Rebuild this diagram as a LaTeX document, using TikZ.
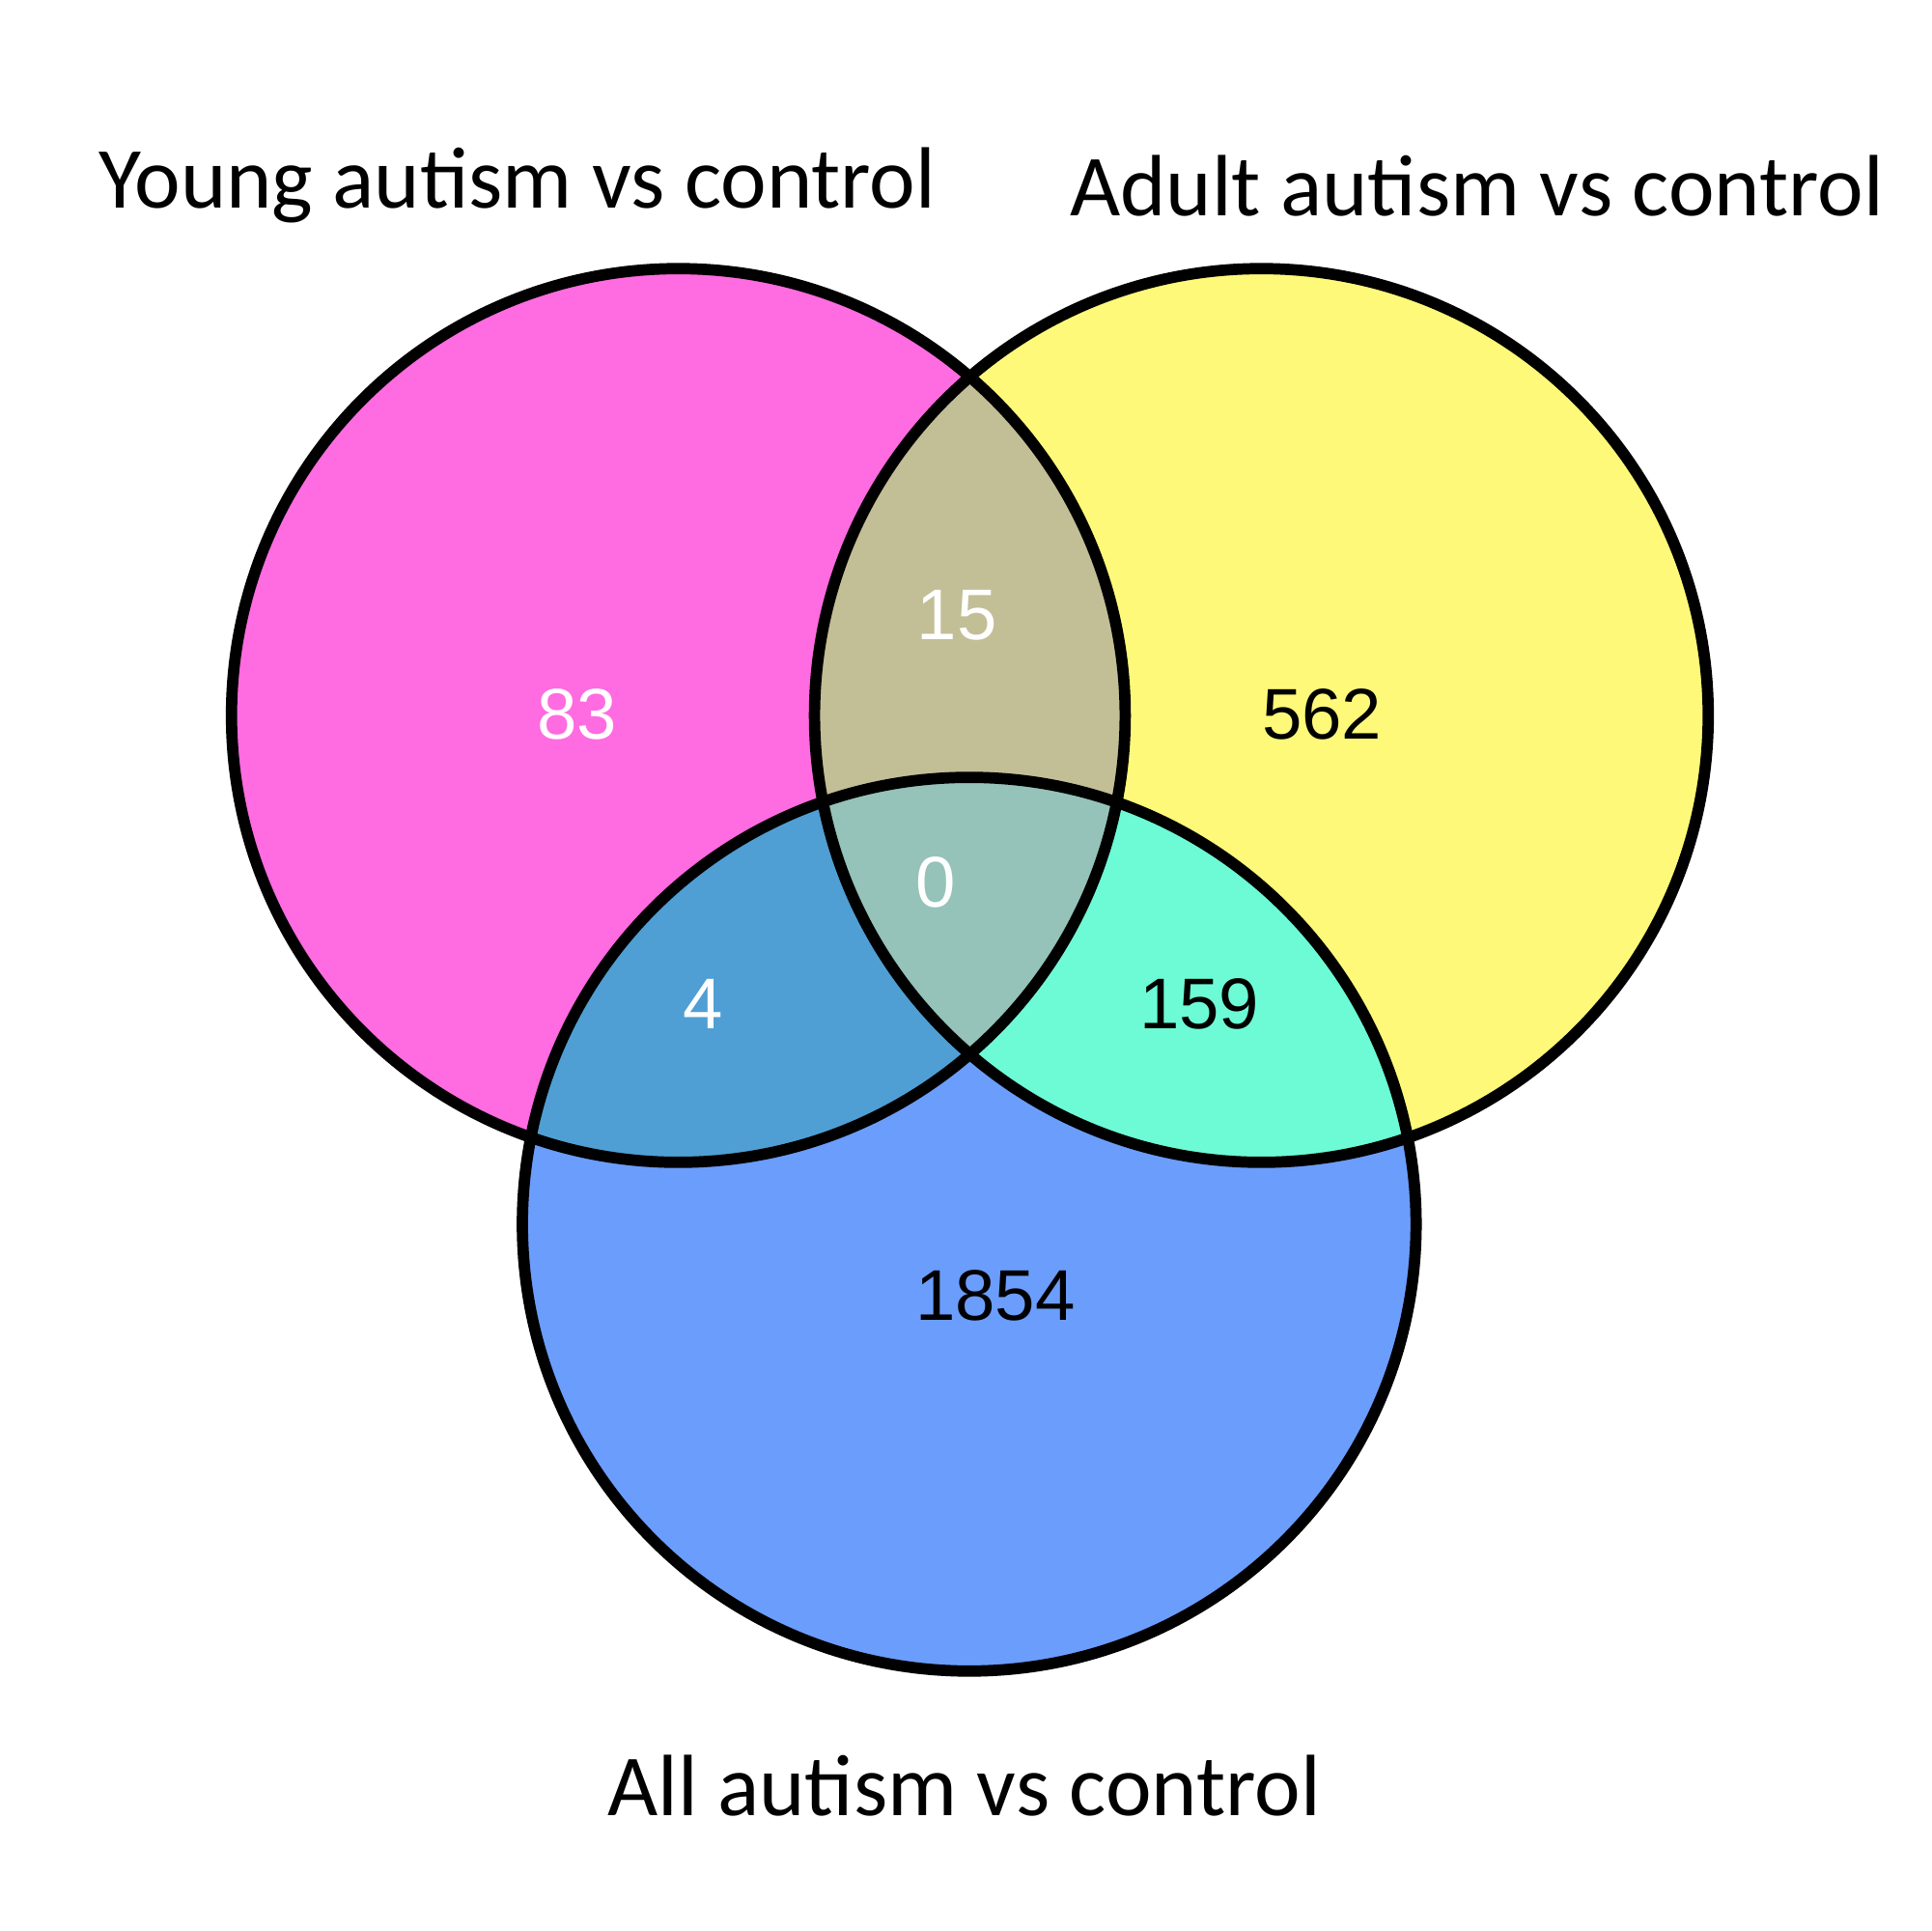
\documentclass[tikz,border=0pt]{standalone}
\usepackage{fontspec}
\newfontfamily\labfont{Carlito}
\newfontfamily\numfont{Liberation Sans}
\definecolor{cY}{HTML}{FF6BE0}
\definecolor{cA}{HTML}{FFF97A}
\definecolor{cL}{HTML}{6B9DFC}
\definecolor{cYA}{HTML}{C2BE96}
\definecolor{cYL}{HTML}{4F9FD4}
\definecolor{cAL}{HTML}{6DFBD6}
\definecolor{cYAL}{HTML}{95C2B9}
\tikzset{lab/.style={font=\labfont\fontsize{20}{24}\selectfont},
num/.style={font=\numfont\fontsize{16.5}{20}\selectfont},
ring/.style={draw=black,line width=2.6pt}}
\begin{document}
\begin{tikzpicture}[x=0.01cm,y=-0.01cm]
\useasboundingbox (0,0) rectangle (1560,1560);
\def\Y{(548,578) circle (361)}
\def\A{(1019,578) circle (361)}
\def\L{(783,989) circle (361)}
\fill[cY] \Y; \fill[cA] \A; \fill[cL] \L;
\begin{scope}\clip \Y; \fill[cYA] \A; \fill[cYL] \L; \end{scope}
\begin{scope}\clip \A; \fill[cAL] \L; \end{scope}
\begin{scope}\clip \Y; \clip \A; \fill[cYAL] \L; \end{scope}
\draw[ring] \Y; \draw[ring] \A; \draw[ring] \L;
\node[lab] (ty) at (418,150) {Young autism vs control};
\node[lab] (ta) at (1193,150) {Adult autism vs control};
\node[lab] (tl) at (779,1443) {All autism vs control};
\node[num,white] (n83) at (466,577) {83};
\node[num,white] (n15) at (773,497) {15};
\node[num] (n562) at (1068,577) {562};
\node[num,white] (n0) at (756,713) {0};
\node[num,white] (n4) at (568,811) {4};
\node[num] (n159) at (969,811) {159};
\node[num] (n1854) at (804,1047) {1854};
\end{tikzpicture}
\end{document}
